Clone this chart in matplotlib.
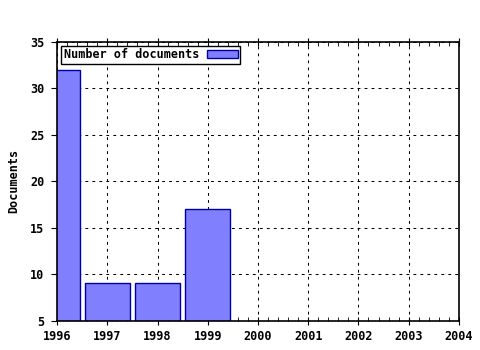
import matplotlib
matplotlib.use('Agg')
import matplotlib.pyplot as plt
from matplotlib.ticker import MultipleLocator

years = [1996, 1997, 1998, 1999]
documents = [32, 9, 9, 17]
x_ticks = [1996, 1997, 1998, 1999, 2000, 2001, 2002, 2003, 2004]
y_ticks = [5, 10, 15, 20, 25, 30, 35]

plt.rcParams['font.family'] = 'DejaVu Sans Mono'
plt.rcParams['font.weight'] = 'bold'

fig = plt.figure(figsize=(4.8, 3.5), dpi=100)
ax = fig.add_axes([0.119, 0.084, 0.837, 0.797])

base = y_ticks[0]
ax.bar(years, [d - base for d in documents], bottom=base, width=0.9,
       color='#8080ff', edgecolor='#0000a0', linewidth=1.0,
       label='Number of documents')

ax.set_xlim(x_ticks[0], x_ticks[-1])
ax.set_ylim(y_ticks[0], y_ticks[-1])
ax.set_xticks(x_ticks)
ax.set_yticks(y_ticks)
ax.xaxis.set_minor_locator(MultipleLocator(0.2))
ax.tick_params(axis='x', which='major', direction='inout', top=True, length=6,
               labelsize=8.5, pad=4)
ax.tick_params(axis='x', which='minor', direction='in', top=True, length=3)
ax.tick_params(axis='y', direction='out', length=4, labelsize=8.5, pad=5)
for lbl in ax.get_xticklabels() + ax.get_yticklabels():
    lbl.set_fontweight('bold')

ax.grid(True, color='black', linestyle=(0, (2.7, 4)), linewidth=0.75)
ax.set_axisbelow(True)
for s in ax.spines.values():
    s.set_linewidth(1.2)

ax.set_ylabel('Documents', fontsize=8.5, fontweight='bold', labelpad=7)

leg = ax.legend(loc='upper left', markerfirst=False, fontsize=8.5, fancybox=False,
                framealpha=1, edgecolor='black', borderpad=0.2, handlelength=2.6,
                handleheight=0.55, handletextpad=0.7, borderaxespad=0.35)
leg.get_frame().set_linewidth(1.0)
for t in leg.get_texts():
    t.set_fontweight('bold')

fig.savefig('out.png', dpi=100)
